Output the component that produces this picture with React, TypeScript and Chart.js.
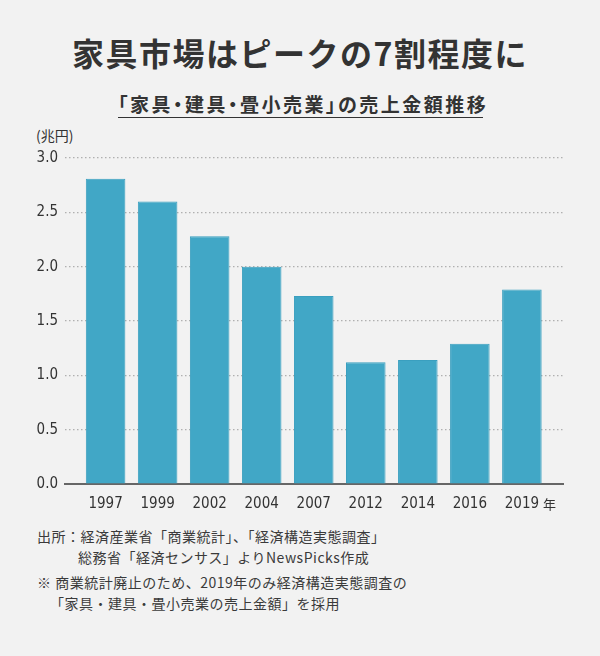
import React, { useEffect, useRef } from "react";
import { Chart, registerables } from "chart.js";

Chart.register(...registerables);

const title = "家具市場はピークの7割程度に";
const subtitle = "「家具・建具・畳小売業」の売上金額推移";
const unitLabel = "(兆円)";
const categories = ["1997", "1999", "2002", "2004", "2007", "2012", "2014", "2016", "2019"];
const values = [2.81, 2.6, 2.28, 2.0, 1.73, 1.12, 1.14, 1.29, 1.79];
const yTicks = [0, 0.5, 1.0, 1.5, 2.0, 2.5, 3.0];
const yearSuffix = "年";
const footnotes = [
  "出所：経済産業省「商業統計」、「経済構造実態調査」",
  "総務省「経済センサス」よりNewsPicks作成",
  "※ 商業統計廃止のため、2019年のみ経済構造実態調査の",
  "「家具・建具・畳小売業の売上金額」を採用",
];

const CJK = "'Noto Sans CJK JP', 'Noto Sans', sans-serif";
const NARROW = "'DejaVu Sans Condensed', 'Liberation Sans Narrow', 'Roboto', sans-serif";

export default function App() {
  const ref = useRef<HTMLCanvasElement | null>(null);

  useEffect(() => {
    if (!ref.current) return;
    const suffixPlugin = {
      id: "yearSuffix",
      afterDraw(chart: any) {
        const xs = chart.scales.x;
        const ctx = chart.ctx;
        const last = categories.length - 1;
        const px = xs.getPixelForValue(last);
        ctx.save();
        ctx.font = "15px " + NARROW;
        const w = ctx.measureText(categories[last]).width;
        ctx.font = "13px " + CJK;
        ctx.fillStyle = "#333";
        ctx.textBaseline = "middle";
        ctx.textAlign = "left";
        ctx.fillText(yearSuffix, px + w / 2 + 4, chart.chartArea.bottom + 20);
        ctx.restore();
      },
    };
    const chart = new Chart(ref.current, {
      type: "bar",
      data: {
        datasets: [
          {
            data: categories.map((_, i) => ({ x: i, y: values[i] })),
            backgroundColor: "#41a7c6",
            borderColor: "#3a9fbf",
            borderWidth: 1,
            barPercentage: 0.76,
            categoryPercentage: 1,
          },
        ],
      },
      options: {
        animation: false,
        responsive: false,
        devicePixelRatio: 1,
        layout: { padding: { top: 18, right: 37, left: 0, bottom: 0 } },
        plugins: { legend: { display: false }, tooltip: { enabled: false } },
        scales: {
          x: {
            type: "linear",
            offset: false,
            min: -0.78,
            max: 8.79,
            afterBuildTicks: (s: any) => {
              s.ticks = categories.map((_, i) => ({ value: i }));
            },
            afterFit: (s: any) => {
              s.height = 36;
            },
            grid: { display: false, drawTicks: false, offset: false },
            border: { display: true, color: "#666", width: 2 },
            ticks: {
              autoSkip: false,
              maxRotation: 0,
              padding: 11,
              color: "#333",
              font: { family: NARROW, size: 15 },
              callback: (v: any) => categories[v] ?? "",
            },
          },
          y: {
            min: 0,
            max: 3,
            afterBuildTicks: (s: any) => {
              s.ticks = yTicks.map((v) => ({ value: v }));
            },
            afterFit: (s: any) => {
              s.width = 65;
            },
            grid: { color: "#b0b0b0", lineWidth: 1.2, drawTicks: false },
            border: { display: false, dash: [1.5, 2.5] },
            ticks: {
              padding: 7,
              color: "#333",
              font: { family: NARROW, size: 15 },
              callback: (v: any) => Number(v).toFixed(1),
            },
          },
        },
      },
      plugins: [suffixPlugin],
    } as any);
    return () => chart.destroy();
  }, []);

  const foot: React.CSSProperties = {
    position: "absolute",
    fontFamily: CJK,
    fontSize: 14,
    color: "#3a3a3a",
    letterSpacing: 0.5,
    whiteSpace: "nowrap",
    lineHeight: "18px",
  };

  return (
    <div
      style={{
        position: "absolute",
        left: 0,
        top: 0,
        width: 600,
        height: 656,
        background: "#f2f2f2",
        overflow: "hidden",
      }}
    >
      <div
        style={{
          position: "absolute",
          left: 0,
          width: 600,
          top: 32,
          textAlign: "center",
          fontFamily: CJK,
          fontWeight: 700,
          fontSize: 32,
          letterSpacing: 1.5,
          lineHeight: "40px",
          color: "#333",
        }}
      >
        {title}
      </div>
      <div
        style={{
          position: "absolute",
          left: 118,
          width: 365,
          top: 90,
          height: 27,
          textAlign: "center",
          fontFamily: CJK,
          fontWeight: 700,
          fontSize: 19,
          letterSpacing: 2.5,
          lineHeight: "27px",
          color: "#333",
          borderBottom: "1.5px solid #333",
          whiteSpace: "nowrap",
          fontFeatureSettings: '"palt"',
        }}
      >
        {subtitle}
      </div>
      <div
        style={{
          position: "absolute",
          left: 36,
          top: 125,
          fontFamily: CJK,
          fontSize: 14,
          lineHeight: "20px",
          color: "#333",
        }}
      >
        {unitLabel}
      </div>
      <canvas
        ref={ref}
        width={600}
        height={380}
        style={{ position: "absolute", left: 0, top: 140, width: 600, height: 380 }}
      />
      <div style={{ ...foot, left: 37, top: 527 }}>{footnotes[0]}</div>
      <div style={{ ...foot, left: 78, top: 548 }}>{footnotes[1]}</div>
      <div style={{ ...foot, left: 37, top: 573 }}>{footnotes[2]}</div>
      <div style={{ ...foot, left: 50, top: 594 }}>{footnotes[3]}</div>
    </div>
  );
}
